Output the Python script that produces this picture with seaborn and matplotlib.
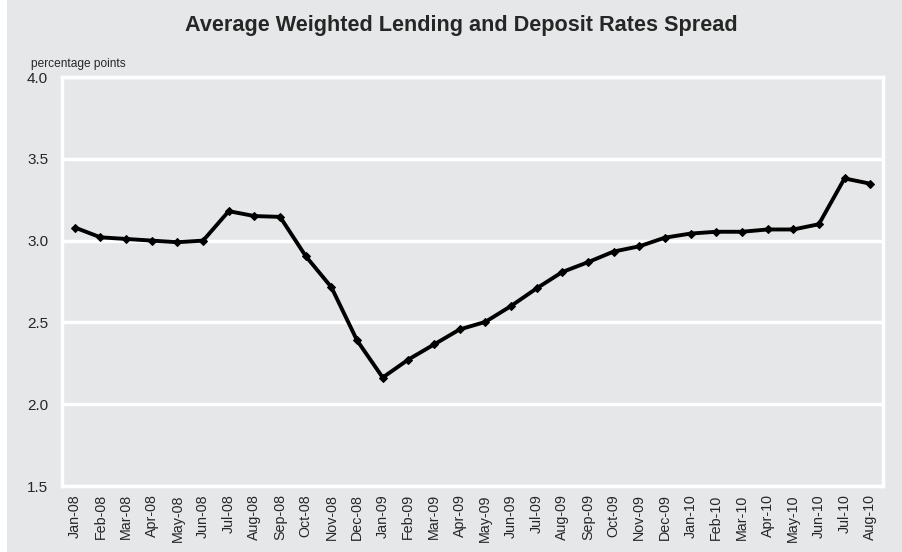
import pandas as pd
import matplotlib.pyplot as plt
import seaborn as sns
from matplotlib.patches import Rectangle
from matplotlib.ticker import FixedLocator

# Monthly data
months = ['Jan-08', 'Feb-08', 'Mar-08', 'Apr-08', 'May-08', 'Jun-08', 'Jul-08', 'Aug-08',
          'Sep-08', 'Oct-08', 'Nov-08', 'Dec-08', 'Jan-09', 'Feb-09', 'Mar-09', 'Apr-09',
          'May-09', 'Jun-09', 'Jul-09', 'Aug-09', 'Sep-09', 'Oct-09', 'Nov-09', 'Dec-09',
          'Jan-10', 'Feb-10', 'Mar-10', 'Apr-10', 'May-10', 'Jun-10', 'Jul-10', 'Aug-10']
spread = [3.08, 3.02, 3.01, 3.00, 2.99, 3.00, 3.18, 3.15,
          3.145, 2.905, 2.715, 2.39, 2.163, 2.273, 2.365, 2.457,
          2.503, 2.60, 2.708, 2.808, 2.868, 2.933, 2.965, 3.018,
          3.043, 3.054, 3.054, 3.068, 3.068, 3.10, 3.38, 3.348]
y_ticks = [1.5, 2.0, 2.5, 3.0, 3.5, 4.0]

bg = '#e6e7e8'
df = pd.DataFrame({'month': months, 'spread': spread})

sns.set_style('white')
plt.rcParams['font.family'] = ['Liberation Sans', 'DejaVu Sans']

fig = plt.figure(figsize=(9.03, 5.52), dpi=100, facecolor='white')
fig.patches.append(Rectangle((7 / 903, 0), 1 - 7 / 903, 1, transform=fig.transFigure,
                             facecolor=bg, edgecolor='none', zorder=-10))
ax = fig.add_axes([62 / 903, 1 - 486 / 552, (883 - 62) / 903, (486 - 77) / 552])
ax.set_facecolor(bg)

sns.lineplot(data=df, x='month', y='spread', ax=ax, color='black', linewidth=2.8,
             marker='D', markersize=4.5, markeredgecolor='black', sort=False)

ax.set_ylim(1.5, 4.0)
ax.set_xlim(-0.5, len(months) - 0.5)
ax.set_yticks(y_ticks)
ax.set_yticklabels([f'{v:.1f}' for v in y_ticks], fontsize=11)
ax.set_xticks(range(len(months)))
ax.set_xticklabels(months, rotation=90, fontsize=10.3)
ax.xaxis.set_minor_locator(FixedLocator([i + 0.5 for i in range(len(months) - 1)]))
ax.tick_params(axis='x', which='major', length=0, pad=6)
ax.tick_params(axis='x', which='minor', direction='in', length=4, width=2, color='white')
ax.tick_params(axis='y', length=0, pad=10)

ax.grid(axis='y', color='white', linewidth=2.5)
ax.set_axisbelow(True)
for side in ['left', 'right', 'top', 'bottom']:
    ax.spines[side].set_visible(True)
    ax.spines[side].set_color('white')
    ax.spines[side].set_linewidth(2.5)

ax.set_xlabel('')
ax.set_ylabel('')
fig.text(31 / 903, 1 - 64 / 552, 'percentage points', fontsize=8.6, va='center', ha='left')
fig.text(461 / 903, 1 - 26 / 552, 'Average Weighted Lending and Deposit Rates Spread',
         fontsize=15.6, fontweight='bold', ha='center', va='center')

fig.savefig('out.png', dpi=100, facecolor=fig.get_facecolor())
